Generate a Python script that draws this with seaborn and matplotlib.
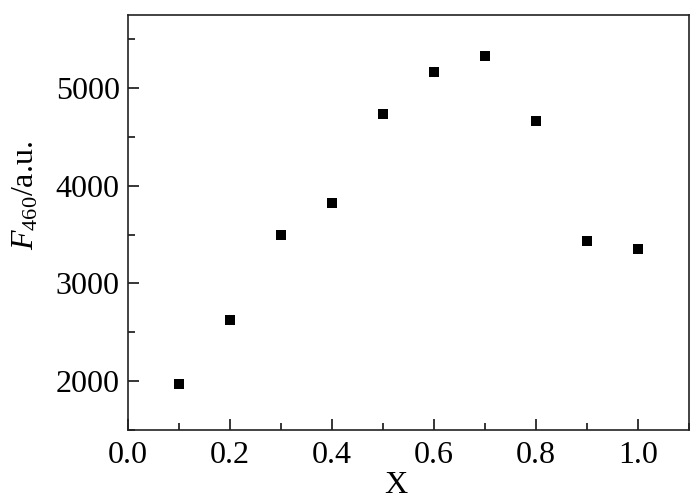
import pandas as pd
import seaborn as sns
import matplotlib.pyplot as plt
from matplotlib.ticker import MultipleLocator

# Values
x_vals = [0.1, 0.2, 0.3, 0.4, 0.5, 0.6, 0.7, 0.8, 0.9, 1.0]
f460 = [1970, 2630, 3500, 3826, 4740, 5165, 5330, 4668, 3437, 3353]
x_ticks = [0.0, 0.2, 0.4, 0.6, 0.8, 1.0]
y_ticks = [2000, 3000, 4000, 5000]

data = pd.DataFrame({"X": x_vals, "F460": f460})

sns.set_style("ticks")
plt.rcParams["font.family"] = ["Liberation Serif", "DejaVu Serif"]
plt.rcParams["mathtext.fontset"] = "custom"
plt.rcParams["mathtext.rm"] = "Liberation Serif"
plt.rcParams["mathtext.it"] = "Liberation Serif:italic"
plt.rcParams["text.color"] = "black"
plt.rcParams["xtick.color"] = "black"
plt.rcParams["ytick.color"] = "black"
plt.rcParams["axes.labelcolor"] = "black"

fig, ax = plt.subplots(figsize=(7, 5.01), dpi=100)
fig.subplots_adjust(left=0.183, right=0.984, top=0.97, bottom=0.142)

sns.scatterplot(data=data, x="X", y="F460", marker="s", color="black",
                s=48, edgecolor="black", linewidth=0, ax=ax)

ax.set_xlim(0, 1.1)
ax.set_ylim(1500, 5750)
ax.set_xticks(x_ticks)
ax.set_xticklabels([f"{t:.1f}" for t in x_ticks])
ax.set_yticks(y_ticks)
ax.xaxis.set_minor_locator(MultipleLocator(0.1))
ax.yaxis.set_minor_locator(MultipleLocator(500))

ax.tick_params(which="major", direction="in", length=8, width=1.1, labelsize=23)
ax.tick_params(axis="x", which="major", pad=8)
ax.tick_params(axis="y", which="major", pad=6)
ax.tick_params(which="minor", direction="in", length=5, width=1.1)
for side in ax.spines.values():
    side.set_linewidth(1.2)
    side.set_color("#222222")

ax.set_xlabel("X", fontsize=23)
ax.set_ylabel(r"$F_{460}$/a.u.", fontsize=23)
ax.xaxis.set_label_coords(0.478, -0.1)
ax.yaxis.set_label_coords(-0.157, 0.566)

fig.savefig("out.png", dpi=100)
